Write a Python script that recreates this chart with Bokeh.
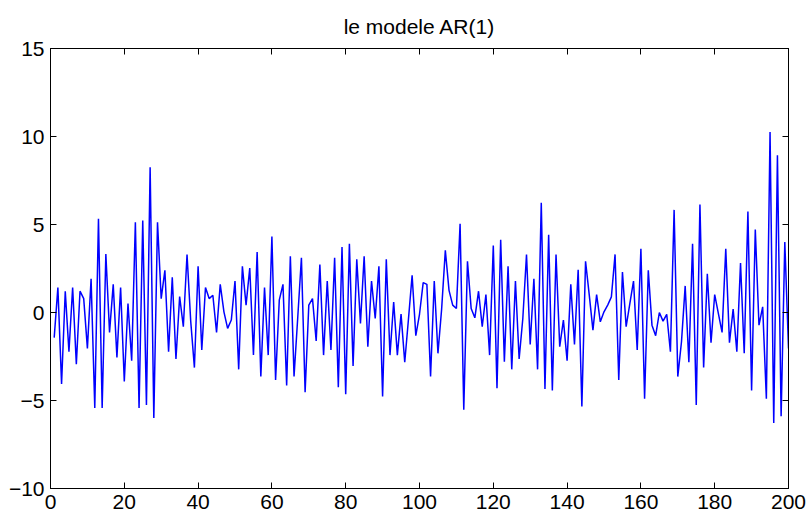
from bokeh.plotting import figure
from bokeh.models import LinearAxis, FixedTicker, Range1d, Title
from bokeh.embed import file_html
from bokeh.resources import INLINE

title_text = "le modele AR(1)"
x_ticks = [0, 20, 40, 60, 80, 100, 120, 140, 160, 180, 200]
y_ticks = [-10, -5, 0, 5, 10, 15]

values = [
    -1.43, 1.42, -4.06, 1.21, -2.23, 1.42, -2.94, 1.21, 0.79, -2.04,
    1.92, -5.43, 5.32, -5.43, 3.32, -1.13, 1.6, -2.55, 1.42, -3.92,
    0.51, -2.74, 5.13, -5.43, 5.23, -5.25, 8.25, -6.0, 5.13, 0.79,
    2.4, -2.23, 2.0, -2.64, 0.9, -0.81, 3.3, -0.5, -3.13, 2.62,
    -2.13, 1.42, 0.79, 0.98, -1.13, 1.6, 0.04, -0.9, -0.43, 1.79,
    -3.23, 2.62, 0.42, 2.53, -2.42, 3.43, -3.64, 1.42, -2.42, 4.32,
    -3.83, 0.7, 1.6, -4.15, 3.2, -3.64, -0.3, 3.11, -4.53, 0.42,
    0.79, -1.62, 2.72, -2.42, 1.79, -2.13, 3.11, -4.25, 3.72, -4.64,
    3.91, -3.04, 3.02, -0.62, 3.2, -1.94, 1.79, -0.34, 2.62, -4.77,
    3.02, -2.42, 0.6, -2.42, -0.09, -2.83, -0.4, 2.11, -1.32, -0.1,
    1.7, 1.6, -3.64, 1.79, -2.32, 0.2, 3.53, 1.26, 0.42, 0.23,
    5.04, -5.53, 2.91, 0.23, -0.3, 1.21, -0.81, 1.02, -2.42, 3.81,
    -4.3, 4.13, -2.79, 2.62, -3.23, 1.79, -2.64, -0.34, 3.3, -1.81,
    1.92, -3.23, 6.23, -4.34, 4.42, -4.43, 3.3, -1.94, -0.43, -2.74,
    1.6, -1.81, 2.43, -5.34, 2.91, 1.0, -1.0, 1.02, -0.53, 0.04,
    0.42, 0.89, 3.3, -3.83, 2.3, -0.81, 0.5, 1.79, -2.13, 3.62,
    -4.9, 2.4, -0.72, -1.32, 0.0, -0.49, -0.11, -2.23, 5.83, -3.64,
    -1.66, 1.51, -2.83, 3.91, -5.25, 6.13, -3.13, 2.2, -1.72, 1.02,
    -0.06, -1.13, 3.62, -1.72, 0.19, -2.23, 2.81, -2.32, 5.74, -4.43,
    4.72, -0.72, 0.32, -4.9, 10.26, -6.28, 8.94, -5.9, 4.0, -2.04,
]
x_index = list(range(1, len(values) + 1))

FONT = "Liberation Sans"

p = figure(width=811, height=523, output_backend="svg", toolbar_location=None,
           x_range=Range1d(0, 200), y_range=Range1d(-10, 15),
           x_axis_location=None, y_axis_location=None)
p.min_border_left = 50
p.min_border_right = 23
p.min_border_top = 48
p.min_border_bottom = 35
p.background_fill_color = "white"
p.border_fill_color = "white"
p.outline_line_color = "black"
p.outline_line_width = 1
p.grid.visible = False

def make_axis(ticks, labels=True):
    ax = LinearAxis(ticker=FixedTicker(ticks=ticks))
    ax.major_tick_in = 6
    ax.major_tick_out = 0
    ax.minor_tick_in = 0
    ax.minor_tick_out = 0
    ax.axis_line_color = "black"
    ax.major_tick_line_color = "black"
    ax.major_label_text_font = FONT
    ax.major_label_text_font_size = "21px"
    ax.major_label_text_color = "black"
    ax.major_label_standoff = 6
    if not labels:
        ax.major_label_overrides = {t: "" for t in ticks}
        ax.major_label_standoff = 0
    return ax

p.add_layout(make_axis(x_ticks), "below")
p.add_layout(make_axis(y_ticks), "left")
p.add_layout(make_axis(x_ticks, labels=False), "above")
p.add_layout(make_axis(y_ticks, labels=False), "right")

p.title = Title(text=title_text, align="center", text_font=FONT,
                text_font_size="21px", text_font_style="normal",
                text_color="black", standoff=22)

p.line(x_index, values, line_color="#0000ff", line_width=1.5)

open("out.html", "w").write(file_html(p, INLINE))
